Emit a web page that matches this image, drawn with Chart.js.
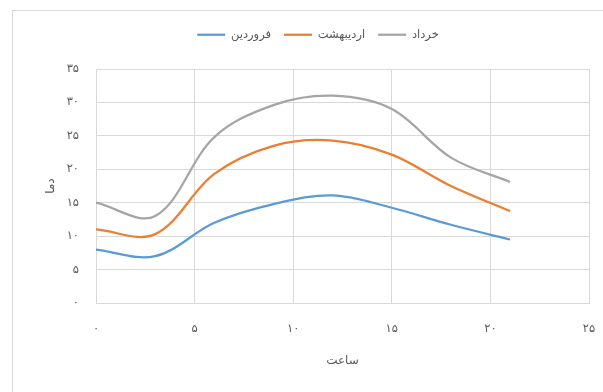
<!DOCTYPE html>
<html lang="fa">
<head>
<meta charset="utf-8">
<title>دما</title>
<script src="https://cdn.jsdelivr.net/npm/chart.js@4.4.1/dist/chart.umd.min.js"></script>
<style>
  html, body { margin: 0; padding: 0; background: #ffffff; }
  #wrap { width: 603px; height: 392px; position: relative; }
</style>
</head>
<body>
<div id="wrap"><canvas id="c" width="603" height="392"></canvas></div>
<script>
// Hour of day for each reading
const hours = [0, 3, 6, 9, 12, 15, 18, 21];

// Temperature readings per month
const farvardin   = [8, 7, 12, 14.8, 16.1, 14.25, 11.7, 9.5];
const ordibehesht = [11, 10.3, 19.3, 23.5, 24.3, 22.2, 17.5, 13.75];
const khordad     = [15, 13, 24.8, 29.6, 31, 29, 21.75, 18.1];

// Series names
const seriesNames = ['فروردین', 'اردیبهشت', 'خرداد'];

// Axis tick labels (Persian digits)
const xTickLabels = ['۰', '۵', '۱۰', '۱۵', '۲۰', '۲۵'];
const yTickLabels = ['۰', '۵', '۱۰', '۱۵', '۲۰', '۲۵', '۳۰', '۳۵'];

const FONT = "'DejaVu Sans', 'Noto Sans', sans-serif";
const GRID = '#d9d9d9';
const TEXT = '#595959';

function toPoints(values) {
  return hours.map((h, i) => ({ x: h, y: values[i] }));
}

function series(label, values, color) {
  return {
    label: label,
    data: toPoints(values),
    showLine: true,
    borderColor: color,
    backgroundColor: color,
    borderWidth: 2.25,
    pointRadius: 0,
    pointHoverRadius: 0,
    tension: 0.35,
    fill: false
  };
}

// Outer frame of the chart box
const framePlugin = {
  id: 'frame',
  beforeDraw(chart) {
    const ctx = chart.ctx;
    ctx.save();
    ctx.strokeStyle = GRID;
    ctx.lineWidth = 1;
    ctx.strokeRect(12.5, 10.5, 620, 420);
    ctx.restore();
  }
};

// Keep a fixed gap between legend and plot area
const legendGap = {
  id: 'legendGap',
  beforeLayout(chart) {
    const lg = chart.legend;
    if (lg && !lg.__sized) {
      const fit = lg.fit.bind(lg);
      lg.fit = function () { fit(); this.height = 53; };
      lg.__sized = true;
    }
  }
};

new Chart(document.getElementById('c'), {
  type: 'scatter',
  data: {
    datasets: [
      series(seriesNames[0], farvardin, '#5B9BD5'),
      series(seriesNames[1], ordibehesht, '#ED7D31'),
      series(seriesNames[2], khordad, '#A5A5A5')
    ]
  },
  options: {
    responsive: false,
    animation: false,
    devicePixelRatio: 1,
    layout: { padding: { left: 47, right: 14, top: 16, bottom: 0 } },
    plugins: {
      tooltip: { enabled: false },
      legend: {
        position: 'top',
        align: 'center',
        labels: {
          usePointStyle: true,
          pointStyle: 'line',
          pointStyleWidth: 28,
          boxHeight: 11,
          padding: 13,
          color: TEXT,
          font: { family: FONT, size: 11.5 }
        }
      }
    },
    scales: {
      x: {
        type: 'linear',
        min: 0,
        max: 25,
        ticks: {
          stepSize: 5,
          padding: 2,
          color: TEXT,
          font: { family: FONT, size: 11.5 },
          callback: (v, i) => xTickLabels[i]
        },
        grid: { color: GRID, lineWidth: 1, drawTicks: true, tickLength: 17, tickColor: 'rgba(0,0,0,0)' },
        border: { color: GRID },
        title: {
          display: true,
          text: 'ساعت',
          color: TEXT,
          font: { family: FONT, size: 12 },
          padding: { top: 0, bottom: 24 }
        },
        afterFit(scale) { scale.height = 89; }
      },
      y: {
        type: 'linear',
        min: 0,
        max: 35,
        ticks: {
          stepSize: 5,
          padding: 17,
          color: TEXT,
          font: { family: FONT, size: 11.5 },
          callback: (v, i) => yTickLabels[i]
        },
        grid: { color: GRID, lineWidth: 1, drawTicks: false },
        border: { color: GRID },
        title: {
          display: true,
          text: 'دما',
          color: TEXT,
          font: { family: FONT, size: 12 },
          padding: { top: -3, bottom: 0 }
        },
        afterFit(scale) { scale.width = 49; }
      }
    }
  },
  plugins: [framePlugin, legendGap]
});
</script>
</body>
</html>
